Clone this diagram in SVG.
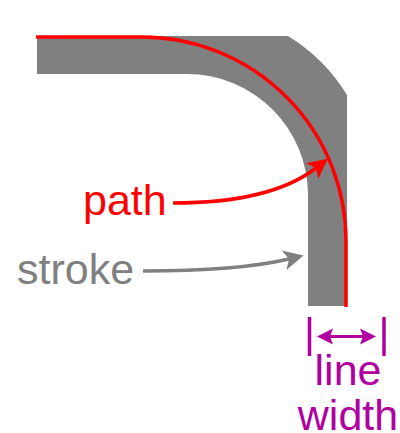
<svg xmlns="http://www.w3.org/2000/svg" width="400" height="433" viewBox="0 0 400 433">
  <style>
    .lbl { font-family: "Liberation Sans", Arial, sans-serif; font-size: 43px; }
    .red { fill: #ff0000; }
    .gray { fill: #808080; }
    .purple { fill: #b000a0; }
    .conn { fill: none; stroke-width: 3.5; }
  </style>
  <defs>
    <marker id="headRed" markerUnits="userSpaceOnUse" markerWidth="20" markerHeight="20" refX="5" refY="10" orient="auto" overflow="visible">
      <path d="M0,0 L20,10 L0,20 L5,10 Z" fill="#ff0000"/>
    </marker>
    <marker id="headGray" markerUnits="userSpaceOnUse" markerWidth="20" markerHeight="20" refX="5" refY="10" orient="auto" overflow="visible">
      <path d="M0,0 L20,10 L0,20 L5,10 Z" fill="#808080"/>
    </marker>
    <marker id="headPurple" markerUnits="userSpaceOnUse" markerWidth="16" markerHeight="16" refX="3" refY="8" orient="auto-start-reverse" overflow="visible">
      <path d="M0,0 L16,8 L0,16 L3,8 Z" fill="#b000a0"/>
    </marker>
  </defs>

  <g id="stroke-band">
    <path d="M37,36 H288 Q324.6,58.4 347,95 V306 H308 V195 A121,121 0 0 0 187,74 H37 Z" fill="#808080"/>
  </g>

  <g id="path-line">
    <path d="M36,37 H142 A204,204 0 0 1 346,241 V307" fill="none" stroke="#ff0000" stroke-width="3.5"/>
  </g>

  <g id="connectors">
    <path class="conn" d="M173,203 C235,203 285,192 316,168" stroke="#ff0000" marker-end="url(#headRed)"/>
    <path class="conn" d="M143,271 C205,271 255,267 289,259" stroke="#808080" marker-end="url(#headGray)"/>
    <g id="line-width-dimension" stroke="#b000a0">
      <line x1="309.5" y1="317" x2="309.5" y2="356" stroke-width="3.5"/>
      <line x1="384" y1="317" x2="384" y2="356" stroke-width="3.5"/>
      <line x1="330" y1="336.5" x2="363" y2="336.5" stroke-width="3" marker-start="url(#headPurple)" marker-end="url(#headPurple)"/>
    </g>
  </g>

  <g id="label-path">
    <text class="lbl red" x="83" y="215">path</text>
  </g>
  <g id="label-stroke">
    <text class="lbl gray" x="17" y="284">stroke</text>
  </g>
  <g id="label-line-width">
    <text class="lbl purple" x="348" y="385" text-anchor="middle">line</text>
    <text class="lbl purple" x="348" y="430" text-anchor="middle">width</text>
  </g>
</svg>
